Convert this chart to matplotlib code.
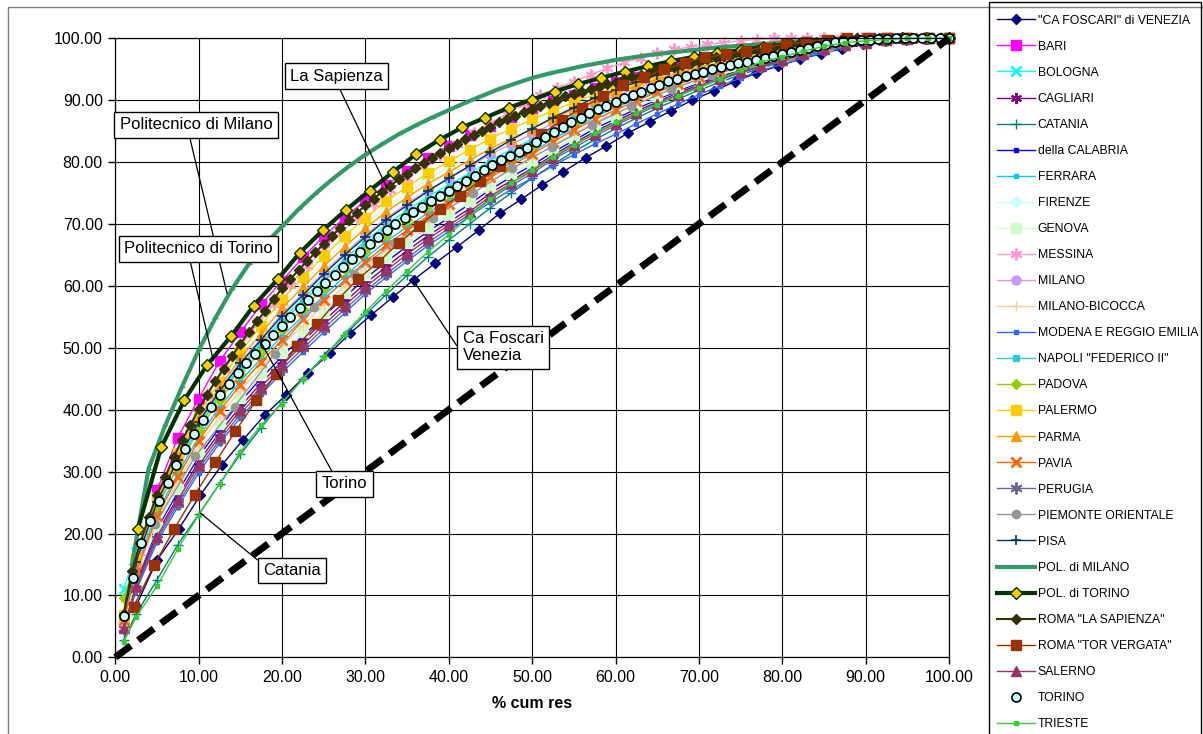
import matplotlib
matplotlib.use("Agg")
import matplotlib.pyplot as plt
from matplotlib.patches import Rectangle
from matplotlib.ticker import MultipleLocator, FormatStrFormatter

plt.rcParams['font.family'] = ['Liberation Sans', 'DejaVu Sans']

# ---- data: cumulative % of residents (x) vs cumulative % of ... (y) ----
x_grid = [1, 2.5, 5, 7.5, 10, 12.5, 15, 17.5, 20, 22.5, 25, 27.5, 30, 32.5, 35, 37.5,
          40, 42.5, 45, 47.5, 50, 52.5, 55, 57.5, 60, 62.5, 65, 67.5, 70, 72.5, 75,
          77.5, 80, 82.5, 85, 87.5, 90, 92.5, 95, 97.5, 100]

foscari_x = [2.5, 5.0, 7.6, 10.2, 12.8, 15.3, 17.9, 20.5, 23.1, 25.7, 28.2, 30.7, 33.3,
             35.8, 38.4, 41.0, 43.6, 46.1, 48.7, 51.2, 53.7, 56.4, 58.9, 61.5, 64.1, 66.7,
             69.2, 71.8, 74.3, 76.9, 79.5, 82.1, 84.6, 87.2, 89.7, 92.3, 94.9, 97.4, 100]
foscari = [8.3, 15.7, 20.7, 26.2, 31.1, 35.1, 39.1, 42.4, 45.9, 49.1, 52.4, 55.3, 58.2,
           61.0, 63.7, 66.3, 69.0, 71.7, 74.0, 76.3, 78.4, 80.7, 82.6, 84.7, 86.5, 88.3,
           90.0, 91.5, 93.0, 94.4, 95.5, 96.6, 97.5, 98.3, 99.0, 99.5, 99.8, 100, 100]

bari = [5.0, 14.0, 27.0, 35.5, 41.8, 47.8, 52.5, 57.0, 60.8, 64.6, 68.0, 71.0, 73.8, 76.3,
        78.6, 80.7, 82.6, 84.3, 85.9, 87.3, 88.6, 89.8, 90.9, 91.9, 92.9, 93.8, 94.7, 95.5,
        96.3, 97.0, 97.7, 98.3, 98.8, 99.2, 99.5, 99.8, 100, 100, 100, 100, 100]
bologna = [11.0, 17.0, 25.0, 31.7, 37.7, 42.6, 47.0, 50.8, 54.6, 57.9, 61.2, 64.3, 67.2,
           69.9, 72.2, 74.4, 76.3, 78.2, 80.3, 82.0, 83.7, 85.6, 87.3, 88.9, 90.2, 91.4,
           92.7, 93.8, 94.8, 95.6, 96.2, 96.9, 97.6, 98.4, 99.1, 99.6, 99.7, 99.9, 100, 100, 100]
cagliari = [4.9, 11.8, 20.0, 25.9, 31.6, 36.3, 40.5, 44.3, 47.8, 51.1, 54.3, 57.4, 60.4,
            63.1, 65.7, 68.1, 70.3, 72.5, 75.0, 77.0, 79.0, 81.1, 83.1, 84.9, 86.6, 88.2,
            89.7, 91.2, 92.5, 93.7, 94.7, 95.7, 96.6, 97.5, 98.3, 99.0, 99.4, 99.7, 99.9, 100, 100]
catania = [2.8, 7.0, 12.5, 18.2, 23.1, 28.0, 32.8, 37.1, 41.2, 45.0, 48.6, 52.0, 55.4, 58.6,
           61.7, 64.7, 67.4, 70.0, 72.6, 75.0, 77.4, 79.6, 81.7, 83.6, 85.4, 87.1, 88.7, 90.2,
           91.6, 92.9, 94.1, 95.2, 96.2, 97.1, 97.9, 98.6, 99.2, 99.6, 99.9, 100, 100]
calabria = [5.1, 12.3, 20.7, 26.7, 32.4, 37.1, 41.3, 45.1, 48.6, 51.9, 55.1, 58.2, 61.2,
            63.9, 66.4, 68.8, 71.0, 73.2, 75.6, 77.6, 79.5, 81.6, 83.5, 85.4, 87.0, 88.6,
            90.1, 91.5, 92.8, 93.9, 94.8, 95.8, 96.7, 97.6, 98.4, 99.0, 99.4, 99.7, 99.9, 100, 100]
ferrara = [6.1, 14.2, 23.3, 29.7, 35.6, 40.4, 44.6, 48.3, 51.9, 55.1, 58.4, 61.5, 64.5, 67.2,
           69.5, 71.8, 73.8, 75.8, 78.1, 79.9, 81.6, 83.7, 85.5, 87.3, 88.8, 90.2, 91.5, 92.8,
           93.9, 94.9, 95.6, 96.4, 97.1, 98.0, 98.8, 99.3, 99.6, 99.8, 100, 100, 100]
firenze = [6.9, 15.8, 25.5, 32.6, 38.8, 44.0, 48.7, 52.8, 56.9, 60.4, 63.8, 67.0, 69.9, 72.6,
           75.0, 77.2, 79.1, 80.9, 82.9, 84.5, 86.0, 87.6, 89.0, 90.3, 91.5, 92.6, 93.7, 94.7,
           95.5, 96.3, 96.9, 97.5, 98.2, 98.8, 99.3, 99.7, 99.9, 100, 100, 100, 100]
genova = [5.3, 12.6, 21.1, 27.2, 32.9, 37.7, 41.9, 45.6, 49.2, 52.5, 55.7, 58.8, 61.8, 64.5,
          67.0, 69.4, 71.5, 73.6, 76.0, 78.0, 79.9, 82.0, 83.9, 85.7, 87.3, 88.9, 90.3, 91.7,
          93.0, 94.1, 95.0, 95.9, 96.8, 97.6, 98.5, 99.1, 99.4, 99.7, 99.9, 100, 100]

messina_x = list(range(1, 100, 2))
messina = [6.0, 17.0, 25.0, 31.5, 37.0, 42.5, 46.5, 50.2, 53.7, 57.0,
           60.2, 63.2, 66.0, 68.6, 71.0, 73.3, 75.5, 77.5, 79.4, 81.2,
           83.0, 84.7, 86.3, 87.8, 89.4, 90.9, 92.0, 93.0, 94.1, 95.2,
           96.1, 96.8, 97.6, 98.2, 98.6, 99.0, 99.3, 99.6, 99.8, 100,
           100, 100, 100, 100, 100, 100, 100, 100, 100, 100]

milano = [6.8, 15.5, 25.2, 32.0, 38.1, 43.1, 47.7, 51.5, 55.5, 58.8, 62.2, 65.3, 68.2, 70.9,
          73.3, 75.5, 77.4, 79.2, 81.3, 82.9, 84.5, 86.3, 87.9, 89.4, 90.7, 91.9, 93.1, 94.1,
          95.0, 95.9, 96.5, 97.2, 97.8, 98.5, 99.2, 99.6, 99.8, 99.9, 100, 100, 100]
bicocca = [5.7, 13.3, 22.1, 28.3, 34.1, 38.9, 43.1, 46.8, 50.4, 53.6, 56.9, 60.0, 63.0, 65.7,
           68.1, 70.4, 72.5, 74.6, 76.9, 78.8, 80.6, 82.7, 84.6, 86.4, 87.9, 89.4, 90.8, 92.2,
           93.4, 94.4, 95.2, 96.1, 96.9, 97.8, 98.6, 99.2, 99.5, 99.8, 99.9, 100, 100]
modena = [4.3, 10.8, 18.6, 24.3, 29.8, 34.6, 38.7, 42.5, 46.0, 49.3, 52.5, 55.6, 58.7, 61.4,
          64.0, 66.5, 68.8, 71.3, 73.5, 75.6, 77.4, 79.4, 81.2, 82.9, 84.5, 86.2, 87.8, 89.4,
          90.9, 92.3, 93.6, 94.8, 95.8, 96.8, 97.7, 98.5, 99.1, 99.6, 99.9, 100, 100]
napoli = [6.0, 14.0, 24.0, 31.0, 37.2, 42.2, 46.7, 50.4, 54.1, 57.4, 60.7, 63.8, 66.7, 69.4,
          71.7, 73.9, 75.8, 77.7, 79.9, 81.5, 83.2, 85.1, 86.9, 88.5, 89.9, 91.2, 92.5, 93.6,
          94.6, 95.5, 96.1, 96.8, 97.5, 98.3, 99.0, 99.5, 99.7, 99.9, 100, 100, 100]
padova = [9.5, 16.0, 24.5, 30.8, 36.7, 41.5, 45.8, 49.4, 53.1, 56.3, 59.6, 62.7, 65.6, 68.3,
          70.6, 72.9, 74.8, 76.7, 79.0, 80.7, 82.4, 84.4, 86.2, 88.0, 89.4, 90.7, 92.0, 93.3,
          94.3, 95.2, 95.9, 96.6, 97.3, 98.1, 98.9, 99.4, 99.7, 99.9, 100, 100, 100]
palermo = [6.9, 15.9, 25.8, 33.0, 39.3, 44.5, 49.3, 53.6, 57.8, 61.4, 64.8, 68.0, 71.0, 73.7,
           76.0, 78.2, 80.1, 82.0, 83.8, 85.4, 86.9, 88.3, 89.7, 90.9, 92.0, 93.0, 94.1, 95.0,
           95.8, 96.5, 97.1, 97.8, 98.4, 98.9, 99.4, 99.8, 99.9, 100, 100, 100, 100]
parma = [6.8, 15.7, 25.4, 32.4, 38.6, 43.6, 48.3, 52.3, 56.4, 59.8, 63.2, 66.3, 69.3, 72.0,
         74.3, 76.5, 78.4, 80.3, 82.2, 83.8, 85.4, 87.0, 88.6, 90.0, 91.2, 92.3, 93.4, 94.4,
         95.3, 96.1, 96.7, 97.4, 98.0, 98.7, 99.3, 99.7, 99.8, 100, 100, 100, 100]
pavia = [6.0, 13.8, 22.8, 29.1, 35.0, 39.8, 44.0, 47.7, 51.3, 54.6, 57.8, 60.9, 63.9, 66.6,
         69.0, 71.3, 73.3, 75.3, 77.6, 79.5, 81.3, 83.3, 85.2, 86.9, 88.4, 89.9, 91.3, 92.6,
         93.7, 94.7, 95.5, 96.3, 97.1, 97.9, 98.7, 99.3, 99.6, 99.8, 100, 100, 100]
perugia = [4.5, 11.1, 19.1, 24.8, 30.4, 35.1, 39.3, 43.1, 46.6, 49.9, 53.1, 56.2, 59.2, 61.9,
           64.5, 67.0, 69.3, 71.6, 74.1, 76.2, 78.2, 80.4, 82.3, 84.2, 85.9, 87.6, 89.2, 90.7,
           92.1, 93.3, 94.4, 95.4, 96.4, 97.3, 98.2, 98.8, 99.3, 99.7, 99.9, 100, 100]

piemonte_x = [4.8, 9.6, 14.3, 19.1, 23.8, 28.6, 33.4, 38.1, 42.9, 47.6, 52.4, 57.2, 61.9,
              66.7, 71.4, 76.2, 81.0, 85.7, 90.5, 95.2, 100]
piemonte = [21.5, 32.5, 40.5, 49.0, 56.6, 62.0, 67.0, 71.0, 75.0, 79.0, 82.5, 86.0, 89.0,
            91.8, 94.0, 95.8, 97.2, 98.6, 99.5, 100, 100]

pisa = [6.8, 15.4, 25.1, 31.9, 38.0, 43.0, 47.5, 51.3, 55.2, 58.5, 61.9, 65.0, 67.9, 70.7,
        73.0, 75.3, 77.4, 79.4, 81.6, 83.6, 85.4, 87.2, 88.8, 90.4, 91.7, 92.9, 94.1, 95.0,
        95.8, 96.5, 97.1, 97.8, 98.4, 98.9, 99.4, 99.8, 99.9, 100, 100, 100, 100]

polimi_x = list(range(2, 101, 2))
polimi = [15.0, 30.5, 37.5, 43.7, 49.6, 54.8, 59.5, 63.5, 66.8, 69.6,
          72.4, 74.9, 77.2, 79.3, 81.2, 82.9, 84.5, 85.9, 87.2, 88.4,
          89.6, 90.7, 91.8, 92.7, 93.6, 94.3, 94.9, 95.5, 96.0, 96.5,
          96.9, 97.3, 97.6, 97.9, 98.2, 98.5, 98.7, 98.9, 99.1, 99.3,
          99.5, 99.6, 99.7, 99.8, 99.9, 100, 100, 100, 100, 100]

polito_x = [2.7, 5.5, 8.3, 11.0, 13.9, 16.6, 19.5, 22.1, 24.9, 27.7, 30.5, 33.3, 36.1, 38.9,
            41.6, 44.4, 47.2, 50.0, 52.7, 55.5, 58.3, 61.1, 63.9, 66.6, 69.4, 72.2, 75.0,
            77.7, 80.5, 83.3, 86.1, 88.9, 91.6, 94.4, 97.2, 100]
polito = [20.7, 33.9, 41.6, 47.2, 51.9, 56.8, 61.1, 65.3, 69.0, 72.3, 75.4, 78.4, 81.3, 83.6,
          85.6, 87.2, 88.8, 90.1, 91.4, 92.6, 93.6, 94.6, 95.5, 96.3, 97.0, 97.6, 98.1, 98.6,
          99.0, 99.3, 99.6, 99.8, 99.9, 100, 100, 100]

sapienza_x = list(range(1, 101))
sapienza = [7.0, 14.0, 18.5, 22.6, 26.2, 29.2, 32.3, 35.1, 37.5, 40.1,
            42.4, 44.6, 46.6, 48.7, 50.6, 52.5, 54.3, 56.0, 57.9, 59.6,
            61.1, 62.6, 64.0, 65.4, 66.8, 68.1, 69.4, 70.6, 71.8, 73.0,
            74.1, 75.2, 76.2, 77.2, 78.1, 79.0, 79.9, 80.7, 81.5, 82.2,
            83.0, 83.7, 84.4, 85.1, 85.7, 86.4, 87.0, 87.5, 88.1, 88.6,
            89.1, 89.6, 90.1, 90.6, 91.0, 91.4, 91.8, 92.2, 92.6, 93.0,
            93.4, 93.7, 94.1, 94.4, 94.8, 95.1, 95.4, 95.7, 96.0, 96.3,
            96.6, 96.9, 97.1, 97.4, 97.6, 97.9, 98.1, 98.3, 98.6, 98.8,
            99.0, 99.1, 99.3, 99.4, 99.6, 99.7, 99.8, 99.9, 100, 100,
            100, 100, 100, 100, 100, 100, 100, 100, 100, 100]

vergata_x = [2.2, 4.65, 7.1, 9.5, 12.0, 14.4, 16.9, 19.3, 21.8, 24.2, 26.7, 29.1, 31.5, 34.0,
             36.4, 38.9, 41.3, 43.8, 46.2, 48.7, 51.1, 53.6, 56.0, 58.5, 60.9, 63.4, 65.8,
             68.3, 70.7, 73.2, 75.6, 78.0, 80.5, 82.9, 85.4, 87.8, 90.3, 92.7, 95.1, 97.6, 100]
vergata = [8.2, 14.9, 20.8, 26.2, 31.5, 36.5, 41.5, 45.7, 50.3, 53.8, 57.8, 61.1, 63.8, 66.9,
           69.6, 72.4, 74.6, 77.0, 79.3, 82.0, 84.5, 86.8, 88.8, 90.6, 92.4, 93.7, 95.0, 96.0,
           96.9, 97.4, 98.0, 98.5, 99.1, 99.4, 99.8, 100, 100, 100, 100, 100, 100]

salerno = [4.7, 11.5, 19.5, 25.4, 31.0, 35.7, 39.9, 43.7, 47.2, 50.5, 53.7, 56.8, 59.8, 62.5,
           65.1, 67.6, 69.8, 72.0, 74.5, 76.6, 78.6, 80.7, 82.7, 84.6, 86.2, 87.9, 89.4, 90.9,
           92.3, 93.5, 94.5, 95.5, 96.5, 97.4, 98.2, 98.9, 99.3, 99.7, 99.9, 100, 100]

torino_x = [1.0, 2.1, 3.1, 4.2, 5.2, 6.3, 7.3, 8.4, 9.4, 10.5, 11.5, 12.6, 13.6, 14.7, 15.7,
            16.8, 17.9, 18.9, 20.0, 21.0, 22.1, 23.1, 24.2, 25.2, 26.3, 27.3, 28.4, 29.4,
            30.5, 31.5, 32.6, 33.6, 34.7, 35.7, 36.8, 37.9, 38.9, 40.0, 41.0, 42.1, 43.1,
            44.2, 45.2, 46.3, 47.3, 48.4, 49.4, 50.5, 51.5, 52.6, 53.7, 54.7, 55.8, 56.8,
            57.9, 58.9, 60.0, 61.0, 62.1, 63.1, 64.2, 65.2, 66.3, 67.4, 68.4, 69.5, 70.5,
            71.6, 72.6, 73.7, 74.7, 75.8, 76.8, 77.9, 78.9, 80.0, 81.0, 82.1, 83.1, 84.2,
            85.2, 86.3, 87.3, 88.4, 89.4, 90.5, 91.5, 92.6, 93.6, 94.7, 95.7, 96.8, 97.8,
            98.9, 100.0]
torino = [6.7, 12.8, 18.4, 22.0, 25.2, 28.2, 31.0, 33.6, 36.0, 38.3,
          40.4, 42.3, 44.1, 45.9, 47.5, 49.0, 50.6, 52.1, 53.6, 55.0,
          56.4, 57.7, 59.1, 60.4, 61.8, 63.1, 64.3, 65.5, 66.7, 67.9,
          69.0, 70.0, 71.0, 71.9, 72.8, 73.7, 74.5, 75.3, 76.1, 76.9,
          77.8, 78.8, 79.6, 80.3, 81.0, 81.7, 82.3, 83.2, 84.1, 84.9,
          85.7, 86.5, 87.2, 87.9, 88.5, 89.1, 89.7, 90.3, 90.8, 91.4,
          91.9, 92.5, 93.1, 93.5, 93.9, 94.3, 94.6, 95.0, 95.4, 95.7,
          96.0, 96.1, 96.5, 96.8, 97.1, 97.4, 97.8, 98.1, 98.5, 98.8,
          99.1, 99.4, 99.5, 99.6, 99.7, 99.8, 99.9, 99.9, 100, 100,
          100, 100, 100, 100, 100]

trieste = [2.5, 6.5, 11.5, 17.5, 23.0, 28.0, 33.2, 37.5, 41.0, 45.0, 48.5, 52.3, 55.8, 59.2,
           62.4, 65.5, 68.3, 71.2, 74.0, 76.6, 78.8, 80.9, 82.8, 84.7, 86.4, 87.9, 89.3, 90.7,
           92.0, 93.5, 94.8, 96.2, 97.0, 97.9, 98.7, 99.3, 99.6, 99.8, 100, 100, 100]

equality = [0, 100]

ASTER = (6, 2, 0)
series = [
    ('"CA FOSCARI" di VENEZIA', foscari_x, foscari, dict(color='#000080', marker='D', ms=5)),
    ('BARI', x_grid, bari, dict(color='#FF00FF', marker='s', ms=6.5)),
    ('BOLOGNA', x_grid, bologna, dict(color='#00FFFF', marker='x', ms=6.5, mew=1.8)),
    ('CAGLIARI', x_grid, cagliari, dict(color='#800080', marker=ASTER, ms=8, mew=1.4)),
    ('CATANIA', x_grid, catania, dict(color='#008080', marker='+', ms=7)),
    ('della CALABRIA', x_grid, calabria, dict(color='#0000FF', marker='s', ms=3)),
    ('FERRARA', x_grid, ferrara, dict(color='#00CCFF', marker='s', ms=3.5)),
    ('FIRENZE', x_grid, firenze, dict(color='#CCFFFF', marker='D', ms=6)),
    ('GENOVA', x_grid, genova, dict(color='#CCFFCC', marker='s', ms=7)),
    ('MESSINA', messina_x, messina, dict(color='#FF99CC', marker=ASTER, ms=8.5, mew=1.4)),
    ('MILANO', x_grid, milano, dict(color='#CC99FF', marker='o', ms=6.5)),
    ('MILANO-BICOCCA', x_grid, bicocca, dict(color='#FFCC99', marker='+', ms=7.5)),
    ('MODENA E REGGIO EMILIA', x_grid, modena, dict(color='#3366FF', marker='s', ms=3)),
    ('NAPOLI "FEDERICO II"', x_grid, napoli, dict(color='#33CCCC', marker='s', ms=4)),
    ('PADOVA', x_grid, padova, dict(color='#99CC00', marker='D', ms=5.5)),
    ('PALERMO', x_grid, palermo, dict(color='#FFCC00', marker='s', ms=7)),
    ('PARMA', x_grid, parma, dict(color='#FF9900', marker='^', ms=7.5)),
    ('PAVIA', x_grid, pavia, dict(color='#FF6600', marker='x', ms=7, mew=2)),
    ('PERUGIA', x_grid, perugia, dict(color='#666699', marker=ASTER, ms=8.5, mew=1.4)),
    ('PIEMONTE ORIENTALE', piemonte_x, piemonte, dict(color='#969696', marker='o', ms=6)),
    ('PISA', x_grid, pisa, dict(color='#003366', marker='+', ms=7.5, mew=1.2)),
    ('POL. di MILANO', polimi_x, polimi, dict(color='#339966', lw=3, marker='_', ms=4)),
    ('POL. di TORINO', polito_x, polito, dict(color='#003300', lw=3, marker='D', ms=6.5,
                                              mfc='#FFCC00', mec='#003300', mew=1)),
    ('ROMA "LA SAPIENZA"', sapienza_x, sapienza, dict(color='#333300', marker='D', ms=5,
                                                      lw=1.5)),
    ('ROMA "TOR VERGATA"', vergata_x, vergata, dict(color='#993300', marker='s', ms=7)),
    ('SALERNO', x_grid, salerno, dict(color='#993366', marker='^', ms=7.5)),
    ('TORINO', torino_x, torino, dict(color='black', ls='none', marker='o', ms=6.5,
                                      mfc='#CCFFFF', mec='black', mew=1.2)),
    ('TRIESTE', x_grid, trieste, dict(color='#33CC33', marker='s', ms=3)),
]

W, H = 1203, 734
fig = plt.figure(figsize=(W / 100, H / 100), dpi=100)

# chart area and legend frames
fig.patches.append(Rectangle((8 / W, -0.1), 1.2, (H - 7) / H + 0.1, transform=fig.transFigure,
                             fill=False, ec='#808080', lw=1))
fig.patches.append(Rectangle((989 / W, -0.1), (1201 - 989) / W, (H - 2) / H + 0.1,
                             transform=fig.transFigure, fill=False, ec='black', lw=1))

ax = fig.add_axes([115.3 / W, 1 - 657.3 / H, (949 - 115.3) / W, (657.3 - 38.3) / H])

for label, xs, ys, style in series:
    kw = dict(lw=1)
    kw.update(style)
    ax.plot(xs, ys, label=label, clip_on=False, **kw)

ax.plot(equality, equality, color='black', lw=5, dashes=(2.8, 1.3), clip_on=False, zorder=5)

ax.set_xlim(0, 100)
ax.set_ylim(0, 100)
ax.xaxis.set_major_locator(MultipleLocator(10))
ax.yaxis.set_major_locator(MultipleLocator(10))
ax.xaxis.set_major_formatter(FormatStrFormatter('%.2f'))
ax.yaxis.set_major_formatter(FormatStrFormatter('%.2f'))
ax.tick_params(direction='out', length=5, width=1, labelsize=11.5, pad=4, color='black')
ax.grid(True, color='black', lw=0.8)
ax.set_axisbelow(True)
for sp in ax.spines.values():
    sp.set_color('black')
    sp.set_linewidth(0.9)
ax.set_xlabel('% cum res', fontsize=11.5, fontweight='bold', labelpad=8)


def note(text, xy, xytext, relpos):
    ax.annotate(text, xy=xy, xytext=xytext, ha='center', va='center', multialignment='left',
                fontsize=12, zorder=10,
                bbox=dict(boxstyle='square,pad=0.32', fc='white', ec='black', lw=1),
                arrowprops=dict(arrowstyle='-', color='black', lw=0.9, relpos=relpos,
                                shrinkA=0, shrinkB=0))


note('La Sapienza', (32.6, 75.8), (26.5, 93.9), (0.51, 0))
note('Politecnico di Milano', (13.4, 58.8), (9.7, 86.0), (0.45, 0))
note('Politecnico di Torino', (11.75, 48.0), (10.0, 66.0), (0.435, 0))
note('Ca Foscari\nVenezia', (35.7, 61.0), (46.5, 50.1), (0, 0.28))
note('Torino', (17.55, 50.7), (27.5, 28.0), (0.285, 1))
note('Catania', (10.2, 23.3), (21.2, 14.0), (0, 0.9))

ax.legend(loc='upper left', bbox_to_anchor=(993 / W, 1 - 11 / H), bbox_transform=fig.transFigure,
          frameon=False, fontsize=8.8, handlelength=3.1, handletextpad=0.25, labelspacing=1.15,
          borderaxespad=0, borderpad=0.3)

fig.savefig('out.png', dpi=100)
